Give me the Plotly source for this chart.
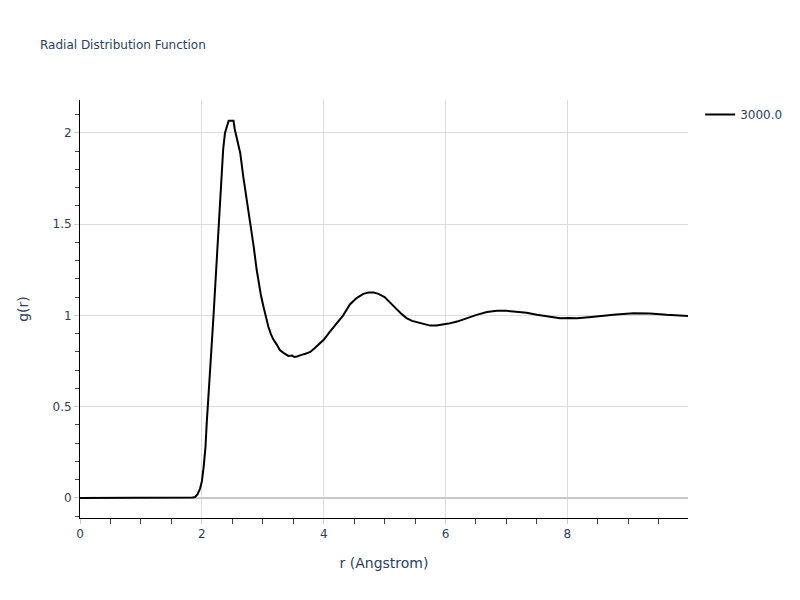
import plotly.graph_objects as go

r_vals = [0.0, 0.5, 1.0, 1.5, 1.85, 1.89, 1.93, 1.97, 2.0, 2.03, 2.06, 2.08, 2.11, 2.13, 2.16, 2.19, 2.22, 2.24, 2.27,
          2.30, 2.33, 2.35, 2.38, 2.41, 2.44, 2.46, 2.52, 2.54, 2.57, 2.60, 2.63, 2.68, 2.74, 2.80, 2.85, 2.90,
          2.93, 2.97, 3.01, 3.05, 3.09, 3.13, 3.17, 3.23, 3.28, 3.34, 3.39, 3.42, 3.48, 3.52, 3.56, 3.60,
          3.65, 3.70, 3.78, 3.85, 3.92, 4.0, 4.10, 4.21, 4.32, 4.43, 4.54, 4.65, 4.74, 4.82, 4.90,
          5.0, 5.09, 5.18, 5.27, 5.36, 5.45, 5.58, 5.66, 5.75, 5.85, 5.94, 6.05, 6.19, 6.35, 6.51,
          6.68, 6.84, 7.0, 7.17, 7.33, 7.50, 7.70, 7.88, 8.02, 8.16, 8.35, 8.54, 8.80, 9.09, 9.35,
          9.63, 9.80, 9.98]
g_vals = [0.0, 0.0, 0.001, 0.002, 0.002, 0.005, 0.02, 0.05, 0.09, 0.17, 0.28, 0.41, 0.55, 0.68, 0.83, 0.99, 1.16,
          1.32, 1.48, 1.63, 1.78, 1.91, 2.0, 2.04, 2.066, 2.066, 2.066, 2.02, 1.98, 1.93, 1.89, 1.76, 1.63, 1.50,
          1.38, 1.25, 1.18, 1.11, 1.05, 0.99, 0.94, 0.90, 0.87, 0.84, 0.81, 0.795, 0.785, 0.778, 0.78, 0.772,
          0.775, 0.778, 0.785, 0.79, 0.80, 0.82, 0.84, 0.866, 0.91, 0.957, 1.0, 1.06, 1.095, 1.118, 1.125,
          1.125, 1.118, 1.10, 1.067, 1.04, 1.01, 0.985, 0.97, 0.957, 0.950, 0.944, 0.944, 0.948, 0.955, 0.966,
          0.985, 1.003, 1.018, 1.026, 1.025, 1.021, 1.014, 1.003, 0.994, 0.985, 0.986, 0.985, 0.990, 0.997,
          1.005, 1.012, 1.010, 1.003, 1.000, 0.997]

series_name = "3000.0"

fig = go.Figure()
fig.add_trace(go.Scatter(x=r_vals, y=g_vals, mode="lines", name=series_name,
                         line=dict(color="black", width=2)))

fig.update_layout(
    template="plotly_white",
    width=800, height=600,
    margin=dict(l=72, r=120, t=92, b=90),
    title=dict(text="Radial Distribution Function", font=dict(size=12, color="#2a3f5f"),
               x=0.04, xanchor="left", y=1 - 37 / 600, yanchor="middle"),
    showlegend=True,
    legend=dict(x=1.02, y=1, font=dict(size=12)),
    font=dict(family="DejaVu Sans, Verdana, sans-serif", color="#2a3f5f"),
    xaxis=dict(title=dict(text="r (Angstrom)", font=dict(size=14), standoff=17), range=[0, 9.98],
               showline=True, linecolor="black", linewidth=1, gridcolor="#dcdcdc",
               zeroline=False, ticks="outside", tickcolor="#cccccc", ticklen=5, dtick=2,
               minor=dict(ticks="outside", dtick=0.5, ticklen=5, tickcolor="#444", showgrid=False),
               tickfont=dict(size=12), automargin=False),
    yaxis=dict(title=dict(text="g(r)", font=dict(size=14), standoff=20), range=[-0.11, 2.18],
               showline=True, linecolor="black", linewidth=1, gridcolor="#dcdcdc",
               zeroline=True, zerolinecolor="#c8c8c8", zerolinewidth=2,
               ticks="outside", tickcolor="#cccccc", ticklen=5, dtick=0.5,
               minor=dict(ticks="outside", dtick=0.1, ticklen=4, tickcolor="#444", showgrid=False),
               tickfont=dict(size=12), automargin=False),
)

fig.write_html("out.html")
